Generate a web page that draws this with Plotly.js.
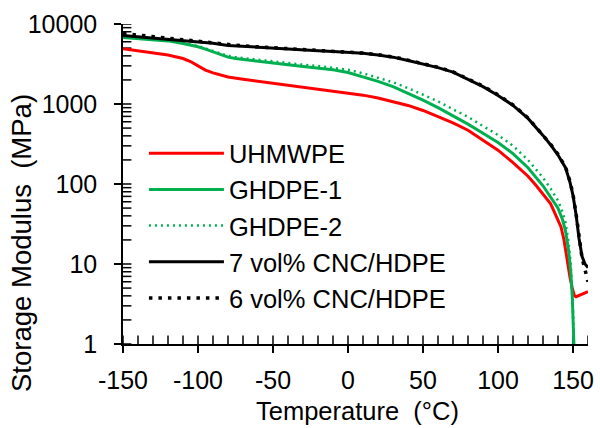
<!DOCTYPE html>
<html><head><meta charset="utf-8">
<script src="https://cdn.plot.ly/plotly-3.0.1.min.js"></script>
<style>body{margin:0;background:#fff}#chart{width:600px;height:428px}</style>
</head><body><div id="chart"></div><script>
// Series data (Temperature in °C, Storage modulus in MPa)
var T_UHMWPE = [-150,-140,-130,-120,-110,-105,-100,-95,-90,-85,-80,-70,-60,-50,-40,-30,-20,-10,0,10,20,30,40,50,60,70,80,90,100,110,120,125,130,135,137,140,142,144,146,148,149.5,151,152,155,160];
var E_UHMWPE = [4900,4650,4400,4100,3700,3400,3000,2650,2450,2300,2180,2040,1930,1820,1710,1610,1520,1440,1370,1290,1190,1080,960,830,700,580,470,355,265,185,125,98,75,57,47,36,29,20,11,6.8,5,4,3.9,4.1,4.5];

var T_GHDPE1 = [-150,-140,-130,-120,-110,-100,-95,-90,-85,-80,-75,-70,-60,-50,-40,-30,-20,-10,0,10,20,30,40,50,60,70,80,90,100,110,120,130,135,140,143,145,147,148.5,149.5,150.2,150.6];
var E_GHDPE1 = [6800,6600,6400,6150,5700,5200,4850,4500,4150,3850,3700,3600,3430,3250,3100,2950,2820,2680,2480,2200,1920,1650,1360,1120,900,710,560,430,330,240,160,95,70,50,36,26,15,8,4,2,1];

var T_GHDPE2 = [-150,-140,-130,-120,-110,-100,-95,-90,-85,-80,-75,-70,-60,-50,-40,-30,-20,-10,0,10,20,30,40,50,60,70,80,90,100,110,120,130,135,140,143,145,147,148.5,149.5,150.2,150.6];
var E_GHDPE2 = [6900,6700,6500,6250,5800,5300,4950,4600,4250,4000,3850,3750,3580,3400,3250,3100,2980,2850,2680,2420,2150,1870,1580,1320,1080,860,690,530,410,300,200,120,88,62,45,33,19,10,5,2.2,1];

var T_CNC7 = [-150,-140,-130,-120,-110,-100,-90,-80,-70,-60,-50,-40,-30,-20,-10,0,10,20,30,40,50,60,70,80,90,100,110,120,125,130,135,140,145,148,150,152,154,156,158,160];
var E_CNC7 = [7200,6950,6700,6500,6300,6050,5750,5400,5250,5120,5000,4880,4760,4640,4540,4440,4300,4100,3850,3500,3150,2850,2500,2050,1650,1280,960,660,520,405,310,230,160,105,72,42,21,12.5,10,9];

var T_CNC6 = [-150,-140,-130,-120,-110,-100,-90,-80,-70,-60,-50,-40,-30,-20,-10,0,10,20,30,40,50,60,70,80,90,100,110,120,125,130,135,140,145,148,150,152,154,156,158,160];
var E_CNC6 = [7600,7250,6950,6700,6450,6150,5850,5500,5320,5180,5050,4920,4800,4680,4570,4470,4330,4130,3880,3530,3180,2880,2520,2070,1670,1300,975,670,525,410,315,235,163,108,74,43,22,12,8.5,6];

var seriesNames = ['UHMWPE','GHDPE-1','GHDPE-2','7 vol% CNC/HDPE','6 vol% CNC/HDPE'];
var xTitle = 'Temperature\u00a0 (°C)';
var yTitle = 'Storage Modulus\u00a0 (MPa)';

// Axis ranges and ticks
var xRange = [-150,160];
var yRangeLog = [0,4];
var xTickVals = [-150,-100,-50,0,50,100,150];
var xTickText = ['-150','-100','-50','0','50','100','150'];
var yTickVals = [1,10,100,1000,10000];
var yTickText = ['1','10','100','1000','10000'];
var xMinor = [];
for (var v = -150; v <= 160; v += 10) xMinor.push(v);
var yMinor = [];
[1,10,100,1000].forEach(function(d){ for (var k=1;k<=9;k++) yMinor.push(k*d); });
yMinor.push(10000);

// inside tick marks drawn as clipped line markers at the axis edges
var xMinorY = xMinor.map(function(){ return yTickVals[0]; });
var yMinorX = yMinor.map(function(){ return xRange[0]; });

var traces = [
  {x:xMinor, y:xMinorY, mode:'markers', showlegend:false, hoverinfo:'skip', cliponaxis:true,
   marker:{symbol:'line-ns-open', size:12, color:'#000', line:{color:'#000', width:1.5}}},
  {x:yMinorX, y:yMinor, mode:'markers', showlegend:false, hoverinfo:'skip', cliponaxis:true,
   marker:{symbol:'line-ew-open', size:12, color:'#000', line:{color:'#000', width:1.5}}},
  {x:T_UHMWPE, y:E_UHMWPE, name:seriesNames[0], mode:'lines', line:{color:'#FF0000', width:3}},
  {x:T_GHDPE1, y:E_GHDPE1, name:seriesNames[1], mode:'lines', line:{color:'#00B050', width:3}},
  {x:T_GHDPE2, y:E_GHDPE2, name:seriesNames[2], mode:'lines', line:{color:'#00B050', width:2.5, dash:'2px,4px'}},
  {x:T_CNC7, y:E_CNC7, name:seriesNames[3], mode:'lines', line:{color:'#000000', width:3}},
  {x:T_CNC6, y:E_CNC6, name:seriesNames[4], mode:'lines', line:{color:'#000000', width:3.5, dash:'3.5px,6px'}}
];

var fontFam = 'Liberation Sans, Arial, sans-serif';
var layout = {
  width:600, height:428,
  margin:{l:123, r:12, t:24, b:84},
  paper_bgcolor:'#ffffff', plot_bgcolor:'#ffffff',
  font:{family:fontFam, size:25, color:'#000'},
  showlegend:true,
  legend:{x:0.045, y:0.668, xanchor:'left', yanchor:'top', bgcolor:'rgba(0,0,0,0)', font:{size:25.5, family:fontFam}, itemwidth:75, tracegroupgap:0},
  xaxis:{range:xRange, tickmode:'array', tickvals:xTickVals, ticktext:xTickText,
    ticks:'outside', ticklen:7, tickwidth:1.5, tickcolor:'#000',
    showline:true, linecolor:'#000', linewidth:1.5, showgrid:false, zeroline:false,
    tickfont:{size:25, family:fontFam, color:'#000'}, ticklabelstandoff:6},
  yaxis:{type:'log', range:yRangeLog, tickmode:'array', tickvals:yTickVals, ticktext:yTickText,
    ticks:'outside', ticklen:7, tickwidth:1.5, tickcolor:'#000',
    showline:true, linecolor:'#000', linewidth:1.5, showgrid:false, zeroline:false,
    tickfont:{size:25, family:fontFam, color:'#000'}, ticklabelstandoff:12},
  annotations:[
    {text:yTitle, xref:'paper', yref:'paper', x:-0.217, y:0.316, xanchor:'center', yanchor:'middle',
     textangle:-90, showarrow:false, font:{size:27.5, family:fontFam, color:'#000'}},
    {text:xTitle, xref:'paper', yref:'paper', x:0.504, y:-0.208, xanchor:'center', yanchor:'middle',
     showarrow:false, font:{size:25.5, family:fontFam, color:'#000'}}
  ]
};

Plotly.newPlot('chart', traces, layout, {displayModeBar:false});
</script></body></html>
